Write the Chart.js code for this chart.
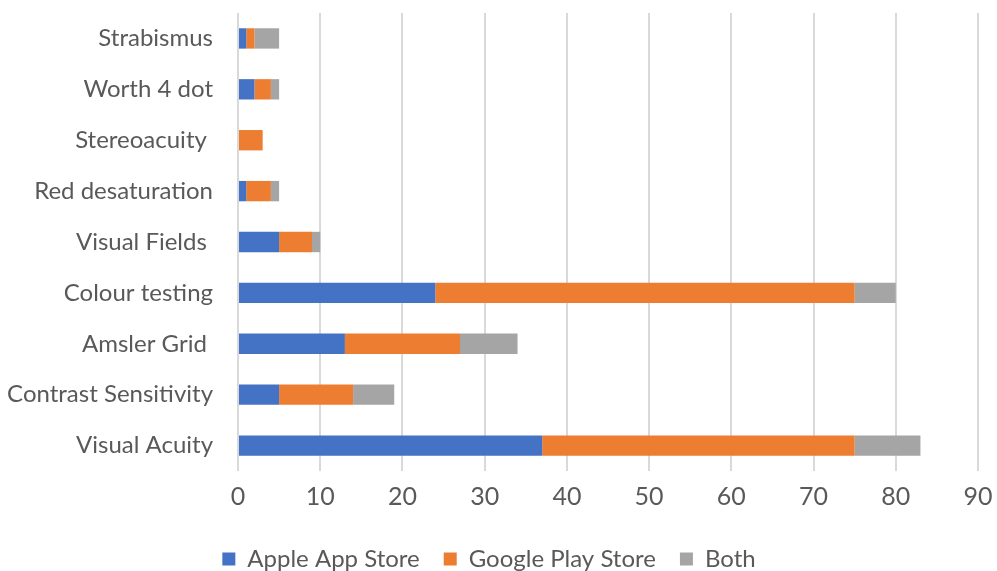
<!DOCTYPE html>
<html>
<head>
<meta charset="utf-8">
<script src="https://cdn.jsdelivr.net/npm/chart.js@4"></script>
<style>
  html, body { margin: 0; padding: 0; background: #fff; }
  #wrap { width: 997px; height: 571px; }
</style>
</head>
<body>
<div id="wrap"><canvas id="appsChart" width="997" height="571"></canvas></div>
<script>
  // categories, top to bottom
  const categories = [
    'Strabismus',
    'Worth 4 dot',
    'Stereoacuity ',
    'Red desaturation',
    'Visual Fields ',
    'Colour testing',
    'Amsler Grid ',
    'Contrast Sensitivity',
    'Visual Acuity'
  ];

  const appleApp = [1, 2, 0, 1, 5, 24, 13, 5, 37];
  const googlePlay = [1, 2, 3, 3, 4, 51, 14, 9, 38];
  const both = [3, 1, 0, 1, 1, 5, 7, 5, 8];

  const fontFam = "Lato, 'Open Sans', sans-serif";
  const txtColor = '#595959';

  const ctx = document.getElementById('appsChart').getContext('2d');
  const chart = new Chart(ctx, {
    type: 'bar',
    data: {
      labels: categories,
      datasets: [
        { label: 'Apple App Store', data: appleApp, backgroundColor: '#4472C4' },
        { label: 'Google Play Store', data: googlePlay, backgroundColor: '#ED7D31' },
        { label: 'Both', data: both, backgroundColor: '#A5A5A5' }
      ]
    },
    options: {
      indexAxis: 'y',
      responsive: false,
      animation: false,
      datasets: {
        bar: { barPercentage: 0.8, categoryPercentage: 0.5 }
      },
      layout: { padding: { top: 13, right: 19, bottom: -10, left: 0 } },
      scales: {
        x: {
          stacked: true,
          min: 0,
          max: 90,
          ticks: { stepSize: 10, color: txtColor, font: { family: fontFam, size: 25 }, padding: 11 },
          grid: { color: '#d9d9d9', lineWidth: 2, drawTicks: false },
          border: { display: false },
          afterFit: function(scale) {
            scale.paddingLeft = 0;
            scale.paddingRight = 0;
          }
        },
        y: {
          stacked: true,
          grid: { display: false },
          border: { display: false },
          ticks: { color: txtColor, font: { family: fontFam, size: 24 }, padding: 17 },
          afterFit: function(scale) {
            scale.width = 238;
            scale.paddingTop = 0;
            scale.paddingBottom = 0;
          }
        }
      },
      plugins: {
        legend: {
          position: 'bottom',
          labels: {
            color: txtColor,
            font: { family: fontFam, size: 24 },
            boxWidth: 13,
            boxHeight: 13,
            padding: 24
          }
        },
        tooltip: { enabled: false }
      }
    }
  });
</script>
</body>
</html>
